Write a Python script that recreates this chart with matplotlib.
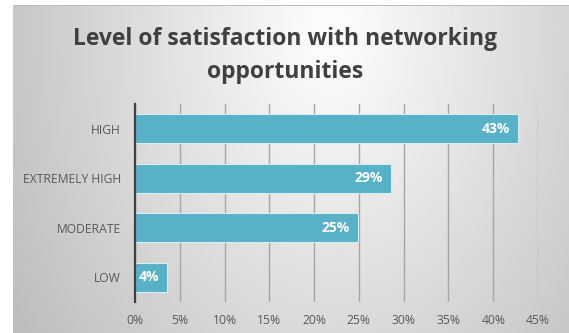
import numpy as np
import matplotlib.pyplot as plt

plt.rcParams['font.family'] = ['Open Sans', 'DejaVu Sans']

# survey results, top row first
categories = ["HIGH", "EXTREMELY HIGH", "MODERATE", "LOW"]
shares = [42.8, 28.6, 24.9, 3.6]
xticks = [0, 5, 10, 15, 20, 25, 30, 35, 40, 45]

W, H = 569, 333
fig = plt.figure(figsize=(W / 100, H / 100), dpi=100)

# radial grey backdrop, brightest near the title; white strip on left and top
bg = fig.add_axes([0, 0, 1, 1])
yy, xx = np.mgrid[0:H, 0:W]
r = np.hypot((xx - 330) / 350.0, (yy - 30) / 500.0)
shade = np.clip(1.0 - 0.24 * r, 0.72, 0.985)
img = np.dstack([shade, shade, shade])
img[5, 13:] = 0.74
img[:, :13] = 1.0
img[:5, :] = 1.0
bg.imshow(img, aspect='auto', extent=[0, W, H, 0], interpolation='bilinear')
bg.set_axis_off()

ax = fig.add_axes([135 / W, 1 - 302 / H, (538 - 135) / W, (302 - 104) / H])
ax.patch.set_alpha(0)

ypos = np.arange(len(categories))
bars = ax.barh(ypos, shares, height=0.58, color='#57b1c7', edgecolor='#d6eef3',
               linewidth=0.8, zorder=3)
for b, v in zip(bars, shares):
    ax.text(b.get_width() - 0.9, b.get_y() + b.get_height() / 2, f"{v:.0f}%",
            ha='right', va='center', color='white', fontsize=10,
            fontweight='bold', zorder=4)

ax.set_ylim(len(categories) - 0.5, -0.5)
ax.set_yticks(ypos)
ax.set_yticklabels(categories, fontsize=8.7, color='#595959')
ax.set_xlim(0, 45)
ax.set_xticks(xticks)
ax.set_xticklabels([f"{t}%" for t in xticks], fontsize=8.7, color='#595959')
ax.tick_params(length=0)
ax.tick_params(axis='x', pad=9)
ax.tick_params(axis='y', pad=10)
ax.grid(axis='x', color='#a6a6a6', linewidth=1, zorder=1)
for s in ['top', 'right', 'bottom']:
    ax.spines[s].set_visible(False)
ax.spines['left'].set_color('#404040')
ax.spines['left'].set_linewidth(1.6)
ax.spines['left'].set_zorder(5)

fig.text(285 / W, 1 - 55.5 / H, "Level of satisfaction with networking\nopportunities",
         ha='center', va='center', fontsize=16.5, fontweight='bold',
         color='#404040', linespacing=1.45)

fig.savefig('out.png', dpi=100)
